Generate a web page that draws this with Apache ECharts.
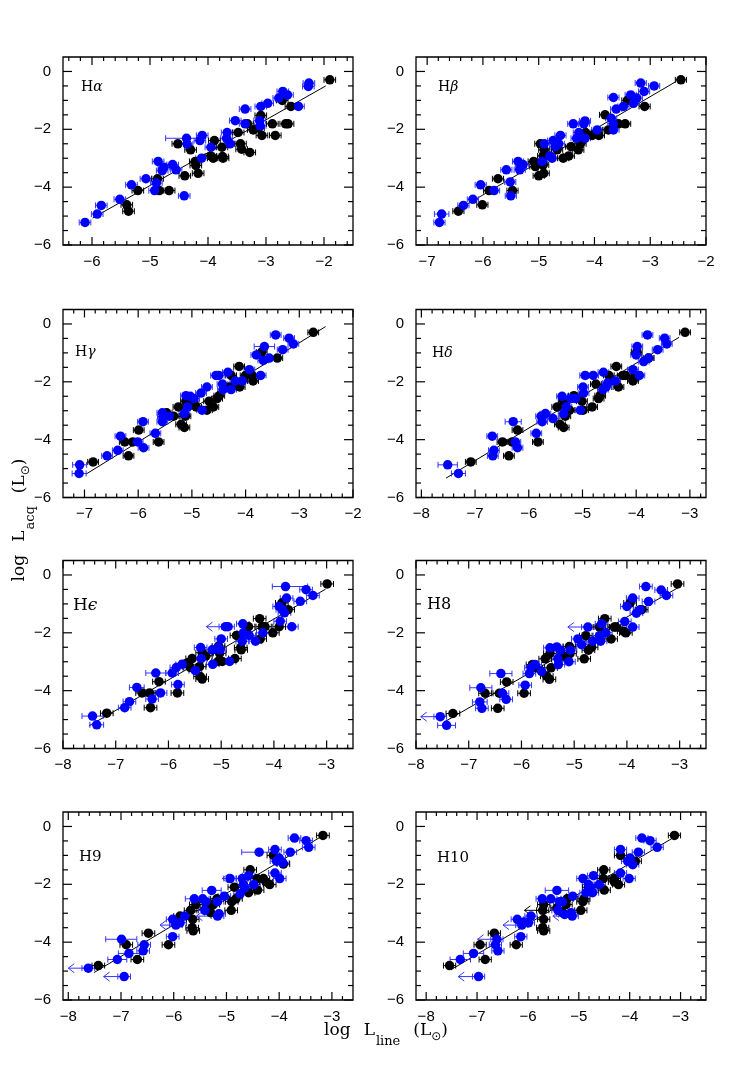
<!DOCTYPE html>
<html>
<head>
<meta charset="utf-8">
<script src="https://cdn.jsdelivr.net/npm/echarts@6/dist/echarts.min.js"></script>
<style>
  html, body { margin: 0; padding: 0; background: #fff; }
  #chart { width: 753px; height: 1086px; }
</style>
</head>
<body>
<div id="chart"></div>
<script>
// point = [logLline, logLacc] or [x, y, err] or [x, y, errLow, errHigh]
const haBlue = [[-6.12,-5.22],[-5.91,-4.93],[-5.84,-4.63],[-5.52,-4.42],[-5.32,-3.92],[-5.07,-3.71],[-4.86,-3.11],[-4.89,-3.86],[-4.92,-4.12],[-4.79,-3.43],[-4.76,-3.31],[-4.61,-3.22],[-4.55,-3.40],[-4.41,-4.30],[-4.37,-2.31,0.36,0.18],[-4.36,-2.51],[-4.14,-2.39],[-4.10,-2.21],[-4.11,-3.00],[-3.95,-2.62],[-3.67,-2.11],[-3.68,-2.31],[-3.62,-2.50],[-3.53,-1.70],[-3.36,-1.30],[-3.36,-1.81],[-3.09,-1.21],[-3.11,-1.70],[-3.10,-1.88],[-2.97,-1.10],[-2.71,-0.69],[-2.63,-0.81],[-2.78,-0.92],[-2.44,-1.21],[-2.26,-0.40],[-2.27,-0.52]];
const haBlack = [[-5.37,-4.83],[-5.40,-4.61],[-5.21,-4.12],[-4.87,-3.71],[-4.84,-4.12],[-4.67,-4.12],[-4.52,-2.50],[-4.40,-3.61],[-4.30,-2.71],[-4.22,-3.11],[-4.21,-3.25],[-4.17,-3.52],[-3.95,-2.92],[-3.91,-3.00],[-3.89,-2.39],[-3.76,-2.62],[-3.75,-2.94],[-3.74,-3.00],[-3.48,-2.11],[-3.44,-2.50],[-3.42,-2.69],[-3.32,-1.81],[-3.28,-2.80],[-3.22,-2.02],[-3.13,-1.96],[-3.09,-1.52],[-3.07,-2.21],[-2.89,-1.81],[-2.84,-2.21],[-2.72,-1.00],[-2.66,-1.81],[-2.62,-1.81],[-2.57,-1.21],[-1.90,-0.29]];
const haFit = [[-5.99,-5.07],[-1.97,-0.50]];

const hbBlue = [[-6.78,-5.22],[-6.74,-4.93,0.13],[-6.35,-4.63],[-6.18,-4.42],[-6.04,-3.92],[-5.80,-4.12],[-5.58,-3.40],[-5.51,-3.82],[-5.50,-4.30],[-5.37,-3.11],[-5.32,-3.29],[-5.28,-3.22],[-5.34,-3.40],[-4.94,-3.11],[-4.90,-2.50],[-4.80,-2.92],[-4.76,-3.00],[-4.74,-2.39],[-4.70,-2.60],[-4.64,-2.50],[-4.61,-2.21],[-4.38,-1.81],[-4.32,-2.31],[-4.28,-2.11],[-4.19,-1.81],[-4.17,-1.71],[-4.17,-2.31],[-3.95,-2.02],[-3.70,-1.62],[-3.66,-0.90],[-3.61,-1.30],[-3.66,-1.81],[-3.66,-2.02],[-3.48,-1.21],[-3.35,-0.81],[-3.24,-0.92],[-3.30,-1.10],[-3.17,-0.40],[-3.11,-0.69],[-2.93,-0.50]];
const hbBlack = [[-6.44,-4.83],[-6.01,-4.61],[-5.89,-4.12],[-5.73,-3.71],[-5.47,-4.12],[-5.09,-3.11],[-5.06,-3.29],[-5.00,-3.61],[-4.91,-3.52],[-4.92,-3.23],[-4.97,-2.50],[-4.90,-2.71],[-4.92,-2.92],[-4.67,-2.71],[-4.56,-3.00],[-4.46,-2.92],[-4.42,-2.60],[-4.29,-2.71],[-4.25,-2.50],[-4.16,-2.11],[-4.04,-2.21],[-3.92,-2.21],[-3.81,-1.50],[-3.75,-2.02],[-3.57,-1.81],[-3.45,-1.81],[-3.41,-1.00],[-3.10,-1.21],[-2.45,-0.29]];
const hbFit = [[-6.45,-4.78],[-2.54,-0.35]];

const hgBlue = [[-7.10,-5.17,0.13],[-7.09,-4.87,0.13],[-6.58,-4.56],[-6.38,-4.37],[-6.33,-3.88],[-6.01,-4.08],[-5.91,-3.38],[-5.90,-4.28],[-5.68,-3.78],[-5.55,-3.07],[-5.54,-3.21],[-5.55,-3.38],[-5.42,-3.19],[-5.14,-3.10],[-5.11,-2.48],[-5.08,-2.87],[-5.03,-2.50],[-4.96,-2.58],[-4.83,-2.39],[-4.81,-2.98],[-4.72,-2.18],[-4.55,-1.78],[-4.50,-1.78],[-4.43,-2.08],[-4.42,-2.27],[-4.33,-1.67],[-4.27,-2.27],[-4.19,-1.97],[-4.06,-1.97],[-3.93,-1.58],[-3.80,-1.07],[-3.72,-1.78],[-3.67,-1.26],[-3.65,-0.78,0.19],[-3.56,-1.18],[-3.44,-0.38],[-3.31,-0.89],[-3.19,-0.49],[-3.11,-0.69]];
const hgBlack = [[-6.84,-4.77],[-6.25,-4.08],[-6.18,-4.56],[-6.10,-4.08],[-5.99,-3.67],[-5.62,-4.08],[-5.47,-3.07],[-5.34,-3.19],[-5.25,-2.87],[-5.20,-3.47],[-5.14,-3.58],[-5.12,-3.19],[-5.11,-2.67],[-4.97,-2.75],[-4.92,-2.87],[-4.72,-2.98],[-4.68,-2.67],[-4.60,-2.87],[-4.53,-2.58],[-4.49,-2.48],[-4.30,-2.18],[-4.27,-1.78],[-4.11,-2.18],[-4.12,-1.47],[-4.00,-1.78],[-3.88,-1.78],[-3.86,-1.97],[-3.70,-0.97],[-3.41,-1.18],[-2.74,-0.29]];
const hgFit = [[-6.97,-5.19],[-2.51,-0.09]];

const hdBlue = [[-7.51,-4.87,0.18],[-7.31,-5.17,0.13],[-6.68,-3.88],[-6.65,-4.37],[-6.67,-4.56],[-6.29,-3.38,0.15],[-6.25,-4.08],[-6.21,-4.28],[-5.86,-3.78],[-5.77,-3.19],[-5.75,-3.38],[-5.69,-3.10],[-5.55,-3.27],[-5.38,-2.50],[-5.35,-3.10],[-5.30,-2.87],[-5.22,-2.58],[-5.13,-2.58],[-5.04,-2.98],[-4.99,-2.18],[-4.98,-2.39],[-4.95,-1.78],[-4.80,-1.78],[-4.61,-1.67],[-4.62,-2.27],[-4.56,-2.18],[-4.53,-2.04],[-4.39,-1.97],[-4.06,-1.58],[-3.98,-0.78],[-4.00,-1.07],[-3.94,-1.78],[-3.86,-1.30],[-3.79,-0.38],[-3.77,-1.18],[-3.60,-0.89],[-3.47,-0.49],[-3.43,-0.69]];
const hdBlack = [[-7.08,-4.77],[-6.49,-4.08],[-6.37,-4.56],[-6.31,-4.08],[-6.21,-3.67],[-5.83,-4.08],[-5.47,-2.87],[-5.42,-3.47],[-5.35,-3.58],[-5.32,-3.19],[-5.35,-2.67],[-5.16,-2.48],[-5.24,-2.98],[-5.01,-2.67],[-4.99,-2.98],[-4.82,-2.87],[-4.75,-2.08],[-4.70,-2.58],[-4.67,-2.48],[-4.51,-1.78],[-4.37,-1.47],[-4.33,-2.18],[-4.25,-1.78],[-4.20,-1.78],[-4.06,-1.97],[-4.05,-1.88],[-3.99,-0.97],[-3.77,-1.18],[-3.09,-0.29]];
const hdFit = [[-7.54,-5.33],[-3.20,-0.46]];

const heBlue = [[-7.44,-4.88,0.2],[-7.36,-5.18,0.13],[-6.83,-4.59],[-6.74,-4.38],[-6.60,-3.89,0.14],[-6.31,-4.29],[-6.24,-3.39,0.19],[-6.15,-4.08],[-5.93,-3.39],[-5.85,-3.20],[-5.82,-3.79],[-5.74,-3.09],[-5.49,-3.31],[-5.39,-2.51],[-5.38,-2.89],[-5.17,-2.59],[-5.16,-3.09],[-5.06,-2.51],[-5.02,-2.59],[-5.00,-2.21],[-4.92,-1.79],[-4.87,-1.79],[-4.84,-2.99],[-4.59,-1.69],[-4.58,-2.00],[-4.60,-2.29],[-4.47,-2.09],[-4.35,-2.29],[-4.21,-2.00],[-3.90,-1.09],[-3.88,-1.60],[-3.84,-1.20],[-3.80,-1.31],[-3.78,-0.40,0.25,0.42],[-3.76,-0.80],[-3.66,-1.79],[-3.50,-0.91],[-3.39,-0.51],[-3.26,-0.71]];
const heBlack = [[-7.17,-4.78],[-6.50,-4.08],[-6.36,-4.08],[-6.34,-4.59],[-6.18,-3.69],[-5.83,-4.08],[-5.66,-3.06],[-5.59,-3.20],[-5.55,-2.89],[-5.41,-3.17],[-5.40,-3.51],[-5.36,-3.60],[-5.36,-2.69],[-5.29,-2.80],[-5.06,-2.99],[-5.05,-2.46],[-4.98,-2.99],[-5.03,-2.71],[-4.74,-2.89],[-4.71,-2.09],[-4.63,-2.51],[-4.62,-2.59],[-4.48,-1.79],[-4.27,-1.51],[-4.26,-2.21],[-4.22,-1.79],[-4.17,-1.79],[-4.02,-2.00],[-3.90,-1.79],[-3.85,-0.97],[-3.73,-1.20],[-2.99,-0.31]];
const heFit = [[-7.51,-5.22],[-3.02,-0.49]];
const heLimitsBlue = [[-4.87,-1.79,0.41]];

const h8Blue = [[-7.54,-4.90],[-7.42,-5.20,0.17],[-6.77,-3.90,0.21],[-6.79,-4.39,0.14],[-6.75,-4.61],[-6.39,-3.41,0.21],[-6.36,-4.09],[-6.29,-4.30],[-5.93,-3.81],[-5.85,-3.41],[-5.82,-3.21],[-5.74,-3.10],[-5.62,-3.33],[-5.46,-2.52],[-5.33,-2.49],[-5.31,-2.90],[-5.30,-3.10],[-5.26,-2.60],[-5.10,-3.00],[-5.07,-2.60],[-4.93,-2.21],[-4.86,-2.41],[-4.74,-1.80],[-4.65,-2.29],[-4.52,-2.10],[-4.48,-1.69],[-4.50,-2.29],[-4.40,-2.00],[-4.04,-1.61],[-4.00,-1.09],[-3.89,-0.80],[-3.89,-1.80],[-3.82,-1.32],[-3.75,-1.20],[-3.64,-0.40],[-3.59,-0.92],[-3.35,-0.52],[-3.25,-0.71]];
const h8Black = [[-7.30,-4.79,0.13],[-6.69,-4.09],[-6.45,-4.61],[-6.42,-4.09],[-6.28,-3.70],[-5.95,-4.09],[-5.79,-3.10],[-5.72,-3.21],[-5.55,-2.90],[-5.52,-3.50],[-5.47,-3.61],[-5.44,-3.21],[-5.46,-2.72],[-5.19,-2.81],[-5.09,-2.47],[-5.08,-2.72],[-4.81,-2.90],[-4.78,-2.10],[-4.73,-2.60],[-4.67,-2.50],[-4.52,-1.80],[-4.42,-1.51],[-4.30,-2.21],[-4.24,-1.80],[-4.21,-1.80],[-4.06,-1.95],[-4.02,-2.00],[-3.94,-0.97],[-3.72,-1.20],[-3.04,-0.31]];
const h8Fit = [[-7.48,-5.10],[-3.01,-0.42]];
const h8LimitsBlue = [[-7.54,-4.90,0.37],[-4.74,-1.80,0.38]];

const h9Blue = [[-7.62,-4.90],[-6.94,-5.19],[-7.07,-4.60,0.18],[-6.99,-3.90,0.30,0.29],[-6.85,-4.39,0.2],[-6.56,-4.09],[-6.58,-4.30],[-6.02,-3.81],[-6.02,-3.21],[-5.96,-3.41],[-5.88,-3.33],[-5.79,-3.10],[-5.61,-2.50,0.17],[-5.45,-2.50],[-5.41,-2.90],[-5.39,-2.60],[-5.28,-2.21,0.18],[-5.17,-2.60],[-5.17,-3.10],[-5.14,-3.02],[-5.04,-2.41],[-4.93,-1.80],[-4.74,-2.33],[-4.70,-1.80],[-4.68,-2.01],[-4.65,-2.12],[-4.58,-1.70],[-4.48,-2.01],[-4.38,-0.89,0.33,0.24],[-4.08,-0.80],[-4.08,-1.61],[-4.05,-1.20],[-4.00,-1.09],[-3.99,-1.80],[-3.93,-1.26],[-3.79,-0.89],[-3.71,-0.40],[-3.49,-0.49],[-3.44,-0.72]];
const h9Black = [[-7.43,-4.81],[-6.90,-4.09],[-6.69,-4.60],[-6.48,-3.69],[-6.10,-4.09],[-5.88,-3.10],[-5.68,-2.90],[-5.64,-3.21],[-5.65,-3.50],[-5.63,-3.61],[-5.58,-2.70],[-5.38,-2.81],[-5.30,-2.98],[-5.25,-2.70],[-5.18,-2.50],[-4.91,-2.90],[-4.90,-2.60],[-4.85,-2.10],[-4.82,-2.50],[-4.55,-1.50],[-4.58,-2.29],[-4.42,-1.80],[-4.41,-2.20],[-4.30,-1.80],[-4.25,-1.92],[-4.18,-2.01],[-4.11,-1.00],[-3.92,-1.30],[-3.17,-0.31]];
const h9Fit = [[-7.51,-5.05],[-3.22,-0.37]];
const h9LimitsBlue = [[-7.62,-4.90,0.38],[-6.94,-5.19,0.39],[-5.96,-3.41,0.30],[-5.17,-3.10,0.40],[-4.93,-1.80,0.15]];

const h10Blue = [[-6.97,-5.19],[-7.33,-4.60,0.2],[-7.07,-4.39,0.2],[-6.61,-3.90],[-6.64,-4.09],[-6.59,-4.30],[-6.14,-3.81],[-6.21,-3.21],[-6.12,-3.41],[-6.07,-3.30],[-5.99,-3.33],[-5.94,-3.10],[-5.72,-2.50],[-5.55,-2.50],[-5.43,-2.21,0.23],[-5.41,-2.90],[-5.38,-2.60],[-5.32,-2.60],[-5.28,-3.04],[-5.15,-2.98],[-5.13,-3.10],[-5.12,-2.41],[-4.92,-1.80],[-4.86,-2.29],[-4.81,-2.01],[-4.76,-2.12],[-4.71,-1.70],[-4.73,-2.29],[-4.60,-2.01],[-4.18,-0.80],[-4.18,-1.61],[-4.04,-1.20],[-3.99,-1.09],[-4.01,-1.80],[-3.94,-1.32],[-3.83,-0.89],[-3.76,-0.40],[-3.60,-0.49],[-3.46,-0.72]];
const h10Black = [[-7.54,-4.81],[-6.94,-4.09],[-6.84,-4.60],[-6.66,-3.69],[-6.23,-4.09],[-5.71,-2.90],[-5.69,-2.70],[-5.69,-3.21],[-5.71,-3.50],[-5.69,-3.61],[-5.43,-2.81],[-5.32,-2.98],[-5.23,-2.50],[-5.25,-2.70],[-4.96,-2.90],[-4.92,-2.60],[-4.90,-2.50],[-4.81,-2.10],[-4.51,-1.50],[-4.50,-2.20],[-4.52,-1.80],[-4.30,-1.80],[-4.30,-1.92],[-4.22,-2.01],[-4.18,-1.00],[-3.89,-1.20],[-3.12,-0.31]];
const h10Fit = [[-7.51,-4.95],[-3.02,-0.26]];
const h10LimitsBlue = [[-6.97,-5.19,0.40],[-6.61,-3.90,0.38],[-6.12,-3.41,0.37],[-5.28,-3.10,0.23]];
const h10LimitsBlack = [[-5.71,-2.90,0.36]];

const xRanges = [[-6.5,-1.5],[-7.2,-2.0],[-7.4,-2.0],[-8.1,-2.7],[-8.0,-2.5],[-8.0,-2.5],[-8.1,-2.6],[-8.2,-2.5]];
const xTickLabels = [[-6,-5,-4,-3,-2],[-7,-6,-5,-4,-3,-2],[-7,-6,-5,-4,-3,-2],[-8,-7,-6,-5,-4,-3],
                     [-8,-7,-6,-5,-4,-3],[-8,-7,-6,-5,-4,-3],[-8,-7,-6,-5,-4,-3],[-8,-7,-6,-5,-4,-3]];
const yRange = [-6, 0.5];
const yTickLabels = [-6,-4,-2,0];
const lineNames = ['{r|H}{i|α}','{r|H}{i|β}','{r|H}{i|γ}','{r|H}{i|δ}','{r|H}{i|ϵ}','{r|H8}','{r|H9}','{r|H10}'];

const panels = [
  {blue: haBlue, black: haBlack, fit: haFit, lb: [], lk: [], err: 0.1},
  {blue: hbBlue, black: hbBlack, fit: hbFit, lb: [], lk: [], err: 0.1},
  {blue: hgBlue, black: hgBlack, fit: hgFit, lb: [], lk: [], err: 0.1},
  {blue: hdBlue, black: hdBlack, fit: hdFit, lb: [], lk: [], err: 0.1},
  {blue: heBlue, black: heBlack, fit: heFit, lb: heLimitsBlue, lk: [], err: 0.12},
  {blue: h8Blue, black: h8Black, fit: h8Fit, lb: h8LimitsBlue, lk: [], err: 0.12},
  {blue: h9Blue, black: h9Black, fit: h9Fit, lb: h9LimitsBlue, lk: [], err: 0.12},
  {blue: h10Blue, black: h10Black, fit: h10Fit, lb: h10LimitsBlue, lk: h10LimitsBlack, err: 0.12}
];

// layout (px)
const colLeft = [63, 416];
const rowTop = [57, 309.5, 560.5, 812];
const boxW = 290, boxH = 188;
const labelPos = [[81,87,14],[438,87,14],[75,352,14],[432,353,14],[73,606,17],[427,605,16],[79,857,15],[437,858,15]];

const BLUE = '#0000ff', BLUE_BAR = '#3535ff', BLACK = '#000';
const numFont = 'Liberation Sans';
const serif = 'DejaVu Serif';

function minorTicks(r, step, majors) {
  const out = [];
  for (let k = Math.ceil(r[0] / step - 1e-6); k * step <= r[1] + 1e-6; k++) {
    const v = Math.round(k * step * 100) / 100;
    if (v > r[0] + 1e-6 && v < r[1] - 1e-6 && !majors.includes(v)) out.push(v);
  }
  return out;
}
const fmt = v => (v < 0 ? '\u2212' : '') + Math.abs(v);

function axis(g, r, ticks, horiz) {
  return {
    type: 'value', gridIndex: g, min: r[0], max: r[1],
    axisLine: {show: false, onZero: false},
    axisTick: {show: false},
    axisLabel: {show: true, customValues: ticks, formatter: fmt, color: '#000', fontSize: 15,
                fontFamily: numFont, margin: horiz ? 9 : 12},
    splitLine: {show: false}
  };
}

// x ticks, data [value, 1 major / 0 minor]: inward marks on bottom and top edges
function xTickItem(params, api) {
  const cs = params.coordSys;
  const len = api.value(1) > 0 ? 8 : 4;
  const px = api.coord([api.value(0), yRange[0]])[0];
  const b = cs.y + cs.height, t = cs.y;
  const st = {stroke: '#000', lineWidth: 1.2};
  return {type: 'group', children: [
    {type: 'line', shape: {x1: px, y1: b, x2: px, y2: b - len}, style: st},
    {type: 'line', shape: {x1: px, y1: t, x2: px, y2: t + len}, style: st}
  ]};
}
// y ticks, data [1 major / 0 minor, value]: inward marks on left and right edges
function yTickItem(params, api) {
  const cs = params.coordSys;
  const len = api.value(0) > 0 ? 9 : 5;
  const py = api.coord([-5, api.value(1)])[1];
  const l = cs.x, rgt = cs.x + cs.width;
  const st = {stroke: '#000', lineWidth: 1.2};
  return {type: 'group', children: [
    {type: 'line', shape: {x1: l, y1: py, x2: l + len, y2: py}, style: st},
    {type: 'line', shape: {x1: rgt, y1: py, x2: rgt - len, y2: py}, style: st}
  ]};
}

function errItem(color) {
  return function (params, api) {
    const x = api.value(0), y = api.value(1), lo = api.value(2), hi = api.value(3);
    const a = api.coord([x - lo, y]), b = api.coord([x + hi, y]);
    const st = {stroke: color, lineWidth: 1};
    return {type: 'group', children: [
      {type: 'line', shape: {x1: a[0], y1: a[1], x2: b[0], y2: b[1]}, style: st},
      {type: 'line', shape: {x1: a[0], y1: a[1] - 3, x2: a[0], y2: a[1] + 3}, style: st},
      {type: 'line', shape: {x1: b[0], y1: b[1] - 3, x2: b[0], y2: b[1] + 3}, style: st}
    ]};
  };
}
function arrowItem(color) {
  return function (params, api) {
    const x = api.value(0), y = api.value(1), len = api.value(2);
    const a = api.coord([x, y]), b = api.coord([x - len, y]);
    const st = {stroke: color, lineWidth: 1};
    return {type: 'group', children: [
      {type: 'line', shape: {x1: a[0], y1: a[1], x2: b[0], y2: b[1]}, style: st},
      {type: 'line', shape: {x1: b[0], y1: b[1], x2: b[0] + 6, y2: b[1] - 4.5}, style: st},
      {type: 'line', shape: {x1: b[0], y1: b[1], x2: b[0] + 6, y2: b[1] + 4.5}, style: st}
    ]};
  };
}
function withErr(pts, def) {
  return pts.map(p => p.length === 2 ? [p[0], p[1], def, def]
                    : p.length === 3 ? [p[0], p[1], p[2], p[2]] : p.slice());
}

const grids = [], xAxes = [], yAxes = [], series = [], graphics = [];
panels.forEach((p, g) => {
  const r = xRanges[g], xt = xTickLabels[g];
  grids.push({left: colLeft[g % 2], top: rowTop[Math.floor(g / 2)], width: boxW, height: boxH,
              show: true, borderColor: '#000', borderWidth: 1.3, backgroundColor: 'transparent'});
  xAxes.push(axis(g, r, xt, true));
  yAxes.push(axis(g, yRange, yTickLabels, false));
  const ax = {xAxisIndex: g, yAxisIndex: g};
  const xTicks = xt.map(v => [v, 1]).concat(minorTicks(r, 0.2, xt).map(v => [v, 0]));
  const yTicks = yTickLabels.map(v => [1, v]).concat(minorTicks(yRange, 0.5, yTickLabels).map(v => [0, v]));
  series.push(
    Object.assign({type: 'line', data: p.fit, showSymbol: false, lineStyle: {color: '#000', width: 1}, z: 1, silent: true}, ax),
    Object.assign({type: 'custom', renderItem: errItem(BLUE_BAR), data: withErr(p.blue, p.err), z: 2}, ax),
    Object.assign({type: 'custom', renderItem: errItem(BLACK), data: withErr(p.black, p.err), z: 2}, ax),
    Object.assign({type: 'custom', renderItem: arrowItem(BLUE_BAR), data: p.lb, z: 2}, ax),
    Object.assign({type: 'custom', renderItem: arrowItem(BLACK), data: p.lk, z: 2}, ax),
    Object.assign({type: 'scatter', data: p.black.map(d => [d[0], d[1]]), symbolSize: 9.5, itemStyle: {color: BLACK, opacity: 1}, z: 3, silent: true}, ax),
    Object.assign({type: 'scatter', data: p.blue.map(d => [d[0], d[1]]), symbolSize: 9.5, itemStyle: {color: BLUE, opacity: 1}, z: 3, silent: true}, ax),
    Object.assign({type: 'custom', renderItem: xTickItem, data: xTicks, z: 4}, ax),
    Object.assign({type: 'custom', renderItem: yTickItem, data: yTicks, z: 4}, ax)
  );
  const lp = labelPos[g];
  graphics.push({type: 'text', x: lp[0], y: lp[1], style: {
    text: lineNames[g], verticalAlign: 'middle', align: 'left', fill: '#000',
    rich: {r: {fontSize: lp[2], fontFamily: serif, fill: '#000'},
           i: {fontSize: lp[2], fontFamily: serif, fontStyle: 'italic', fill: '#000'}}
  }});
});

const titleRich = {
  n: {fontSize: 17, fontFamily: serif, fill: '#000'},
  g: {fontSize: 17, fontFamily: serif, fill: '#000', padding: [0, 0, 0, 13]},
  s: {fontSize: 13, fontFamily: serif, fill: '#000', padding: [22, 0, 0, 1]},
  o: {fontSize: 12, fontFamily: 'DejaVu Sans', fill: '#000', padding: [12, 0, 0, 0]}
};
graphics.push({type: 'text', x: 386, y: 1031, style: {
  text: '{n|log}{g|L}{s|line}{g|(L}{o|\u2299}{n|)}', align: 'center', verticalAlign: 'middle', rich: titleRich}});
graphics.push({type: 'text', x: 20, y: 520, rotation: Math.PI / 2, style: {
  text: '{n|log}{g|L}{s|acq}{g|(L}{o|\u2299}{n|)}', align: 'center', verticalAlign: 'middle', rich: titleRich}});

const chart = echarts.init(document.getElementById('chart'));
chart.setOption({
  animation: false,
  grid: grids,
  xAxis: xAxes,
  yAxis: yAxes,
  series: series,
  graphic: graphics
});
</script>
</body>
</html>
